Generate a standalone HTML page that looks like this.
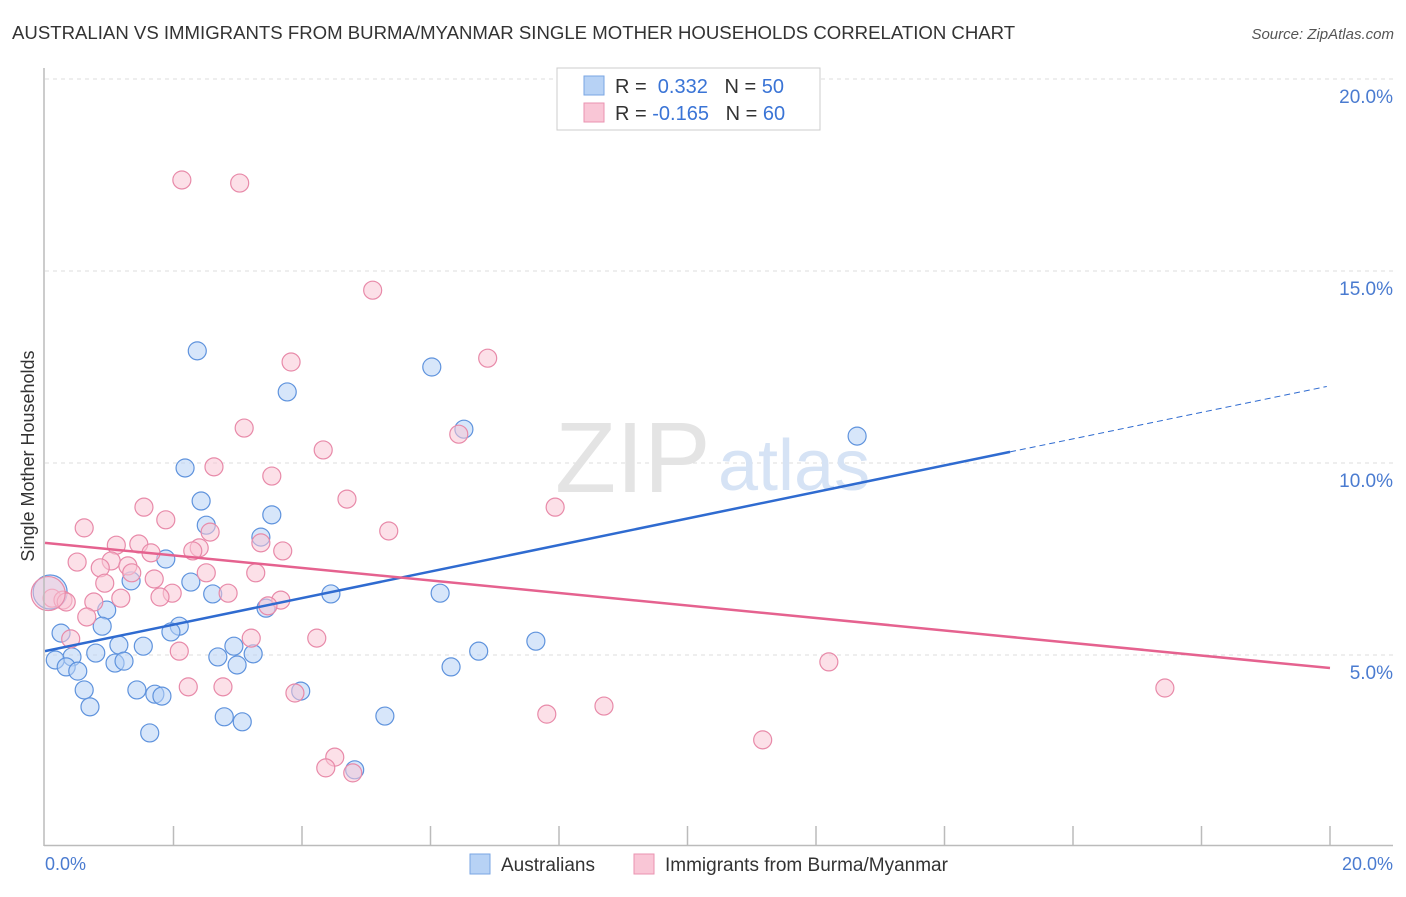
<!DOCTYPE html>
<html><head><meta charset="utf-8"><style>
body{margin:0;background:#fff;font-family:"Liberation Sans",sans-serif}
svg text{font-family:"Liberation Sans",sans-serif}
</style></head><body>
<svg id="chart" width="1406" height="892" xmlns="http://www.w3.org/2000/svg">
<text x="12" y="39" font-size="18.6" fill="#333">AUSTRALIAN VS IMMIGRANTS FROM BURMA/MYANMAR SINGLE MOTHER HOUSEHOLDS CORRELATION CHART</text>
<text x="1394" y="39" font-size="15" fill="#555" font-style="italic" text-anchor="end">Source: ZipAtlas.com</text>
<g id="grid"></g>
<text x="555" y="492" font-size="100" fill="#e4e4e4" font-family="Liberation Serif">ZIP</text>
<text x="718" y="490" font-size="72" fill="#d6e3f5">atlas</text>
<g id="pts"></g>
<g id="lines"></g>
<line x1="44" y1="68" x2="44" y2="846" stroke="#bbb" stroke-width="1.5"/>
<line x1="44" y1="845.5" x2="1393" y2="845.5" stroke="#bbb" stroke-width="1.5"/>
<g id="ticks"></g>
<text x="45" y="870" font-size="18" fill="#4a7bd0">0.0%</text>
<text x="1393" y="870" font-size="18" fill="#4a7bd0" text-anchor="end">20.0%</text>
<text transform="translate(34,456) rotate(-90)" font-size="18" fill="#333" text-anchor="middle">Single Mother Households</text>
<g>
<rect x="557" y="68" width="263" height="62" fill="#fff" stroke="#ccc"/>
<rect x="584" y="76" width="20" height="19" fill="#b7d2f5" stroke="#7aa6e3"/>
<rect x="584" y="103" width="20" height="19" fill="#f9c6d6" stroke="#ea93b0"/>
<text x="615" y="93" font-size="20" fill="#333">R = <tspan fill="#3a74d6">&#160;0.332</tspan>&#160;&#160;&#160;N = <tspan fill="#3a74d6">50</tspan></text>
<text x="615" y="120" font-size="20" fill="#333">R = <tspan fill="#3a74d6">-0.165</tspan>&#160;&#160;&#160;N = <tspan fill="#3a74d6">60</tspan></text>
</g>
<g>
<rect x="470" y="854" width="20" height="20" fill="#b7d2f5" stroke="#7aa6e3"/>
<text x="501" y="871" font-size="19" fill="#333">Australians</text>
<rect x="634" y="854" width="20" height="20" fill="#f9c6d6" stroke="#ea93b0"/>
<text x="665" y="871" font-size="19" fill="#333">Immigrants from Burma/Myanmar</text>
</g>
</svg>
<script>
const yTicks=[5,10,15,20];
const yTickLabels=["5.0%","10.0%","15.0%","20.0%"];
const blueX=[2.37,3.77,6.02,6.52,12.64,2.18,2.43,2.51,3.53,3.36,1.88,1.34,2.27,0.96,2.61,3.44,4.45,6.15,0.25,0.89,2.09,1.96,0.42,0.79,1.15,1.53,2.94,3.24,2.69,2.99,0.16,0.33,0.51,1.09,1.23,6.75,7.64,6.32,0.61,1.43,1.71,1.82,3.98,0.70,2.79,3.07,5.29,1.63,4.82,0.08];
const blueY=[12.92,11.85,12.50,10.88,10.70,9.87,9.01,8.38,8.65,8.07,7.50,6.93,6.90,6.17,6.59,6.22,6.59,6.61,5.57,5.75,5.75,5.60,4.95,5.05,5.26,5.23,5.23,5.03,4.95,4.74,4.87,4.69,4.58,4.79,4.84,5.10,5.36,4.69,4.09,4.09,3.98,3.93,4.06,3.65,3.39,3.26,3.41,2.97,2.01,6.64];
const pinkX=[2.13,3.03,5.10,3.83,6.89,3.10,6.44,4.33,2.63,3.53,4.70,7.94,1.54,1.88,0.61,2.57,5.35,3.36,1.11,1.46,2.40,2.30,3.70,1.65,0.50,1.03,1.29,0.86,1.35,2.51,3.28,1.70,0.93,1.98,1.79,2.85,1.18,0.11,0.28,0.33,0.76,3.67,3.47,0.65,0.40,3.21,4.23,2.09,12.20,2.23,2.77,3.89,8.70,7.81,11.17,4.51,4.37,4.79,17.43,0.05];
const pinkY=[17.37,17.29,14.50,12.63,12.73,10.91,10.75,10.34,9.90,9.66,9.06,8.85,8.85,8.52,8.31,8.20,8.23,7.92,7.86,7.89,7.79,7.71,7.71,7.66,7.42,7.45,7.32,7.27,7.14,7.14,7.14,6.98,6.87,6.61,6.51,6.61,6.48,6.48,6.43,6.38,6.38,6.43,6.28,5.99,5.42,5.44,5.44,5.10,4.82,4.17,4.17,4.01,3.67,3.46,2.79,2.34,2.06,1.93,4.14,6.60];
const blueFit=[5.10,0.3455];
const pinkFit=[7.92,-0.163];
const NS="http://www.w3.org/2000/svg";
const sx=v=>45+v*64.25, sy=v=>847-v*38.4;
function mk(t,a,p){const e=document.createElementNS(NS,t);for(const k in a)e.setAttribute(k,a[k]);document.getElementById(p).appendChild(e);return e;}
yTicks.forEach((v,i)=>{
 const l=mk('line',{x1:45,x2:1393,y1:sy(v),y2:sy(v),stroke:'#ddd','stroke-dasharray':'4,4'},'grid');
 
 
 const t=mk('text',{x:1393,y:sy(v)+24,'font-size':19,fill:'#4a7bd0','text-anchor':'end'},'grid');
 t.textContent=yTickLabels[i];
 
 
});
for(let i=1;i<=10;i++){
 const x=sx(i*2);
 const l=mk('line',{x1:x,x2:x,y1:826,y2:845,stroke:'#bbb','stroke-width':1.5},'ticks');
 
 
}
function pts(X,Y,fill,stroke,name){
 X.forEach((x,i)=>{
  const big=(x<0.1);
  const c=mk('circle',{cx:sx(x),cy:sy(Y[i]),r:big?17:9,fill:fill,'fill-opacity':big?0.5:0.55,stroke:stroke,'stroke-width':1.2},'pts');
  
  
 });
}
pts(blueX,blueY,'#b7d2f5','#5f93dd','point-australians');
pts(pinkX,pinkY,'#f9c6d6','#e88aa9','point-burma');
const bl=mk('line',{x1:sx(0),y1:sy(blueFit[0]),x2:sx(15.02),y2:sy(blueFit[0]+blueFit[1]*15.02),stroke:'#2f6bd0','stroke-width':2.5},'lines');


const bd=mk('line',{x1:sx(15.02),y1:sy(blueFit[0]+blueFit[1]*15.02),x2:sx(19.95),y2:sy(blueFit[0]+blueFit[1]*19.95),stroke:'#2f6bd0','stroke-width':1,'stroke-dasharray':'6,4'},'lines');


const pl=mk('line',{x1:sx(0),y1:sy(pinkFit[0]),x2:sx(20),y2:sy(pinkFit[0]+pinkFit[1]*20),stroke:'#e5628f','stroke-width':2.5},'lines');


</script>
</body></html>
